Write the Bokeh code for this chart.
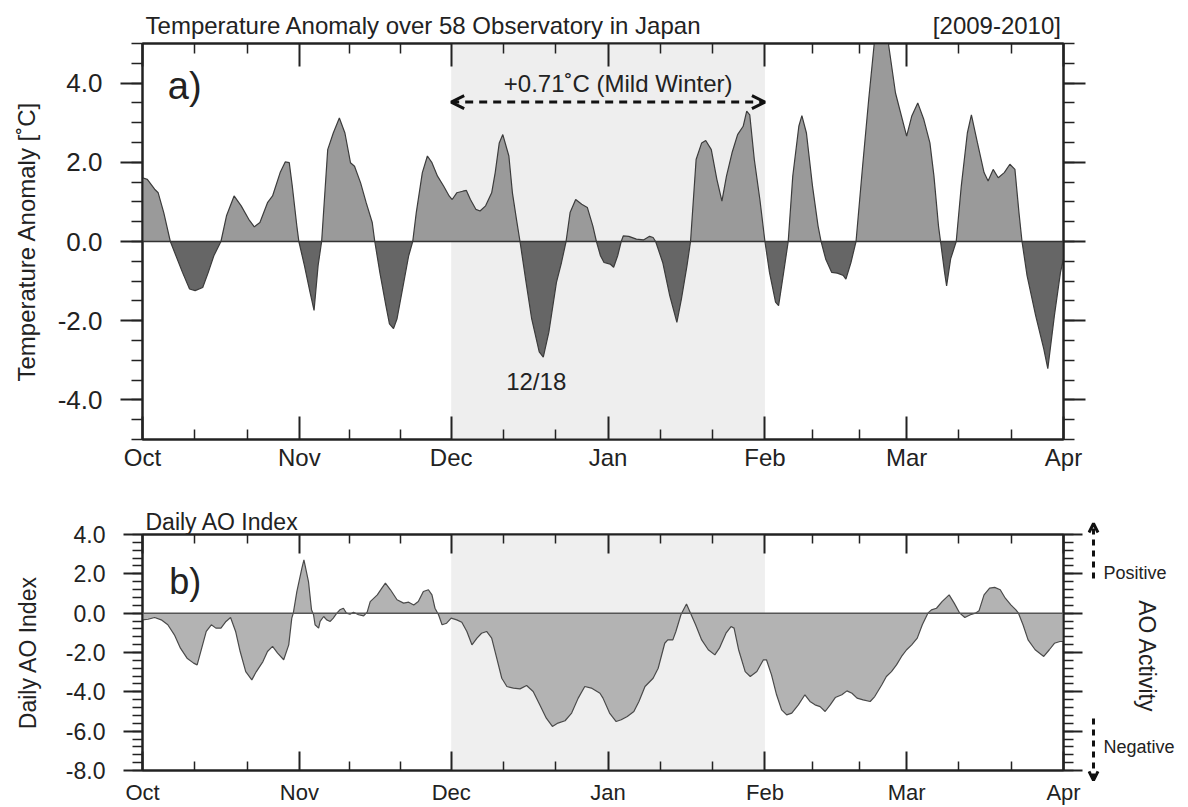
import numpy as np
from bokeh.plotting import figure
from bokeh.models import (FixedTicker, LinearAxis, Range1d, BoxAnnotation, Label,
                          Arrow, OpenHead, Span, NumeralTickFormatter, Title)
from bokeh.layouts import column, row
from bokeh.embed import file_html
from bokeh.resources import INLINE

# ---------------- data ----------------
month_labels = ["Oct", "Nov", "Dec", "Jan", "Feb", "Mar", "Apr"]
month_days = [0, 31, 61, 92, 123, 151, 182]   # days since 1 Oct 2009

# a) temperature anomaly over 58 observatories (deg C)
temp_day = [0, 0.95, 2.4, 3.1, 4.2, 5.5, 7.9, 9.3, 10.4, 11.9, 13.0, 14.1, 15.5, 16.6, 18.1,
            19.5, 21.0, 22.1, 23.2, 24.7, 25.7, 27.2, 28.2, 29.0, 29.6, 30.5, 30.9, 32.0, 33.1,
            33.9, 34.7, 35.4, 36.6, 37.7, 38.9, 40.0, 41.1, 41.9, 43.1, 44.2, 45.4, 45.9, 46.9,
            48.1, 48.8, 49.6, 50.3, 51.5, 52.6, 53.4, 54.1, 55.3, 56.3, 57.2, 58.3, 59.5, 60.6,
            61.2, 62.1, 63.3, 64.0, 64.8, 65.9, 66.7, 67.8, 69.0, 69.7, 70.5, 71.2, 72.4, 73.1,
            73.9, 74.6, 75.8, 76.9, 78.4, 79.2, 80.3, 81.8, 82.8, 83.7, 84.5, 85.6, 86.8, 87.9,
            89.0, 89.7, 90.5, 91.2, 92.4, 93.1, 93.9, 94.6, 95.0, 96.1, 97.6, 99.0, 100.2, 100.9,
            101.4, 102.8, 104.2, 105.6, 106.5, 107.6, 108.3, 109.4, 110.5, 111.3, 112.4, 113.5,
            114.5, 115.4, 116.5, 117.6, 118.7, 119.4, 120.0, 120.9, 122.0, 123.0, 123.9, 125.1,
            125.7, 126.6, 127.6, 128.5, 129.7, 130.3, 131.2, 132.4, 133.5, 134.1, 135.0, 136.2,
            137.3, 138.5, 139.0, 140.0, 141.0, 142.3, 143.5, 144.6, 145.8, 147.4, 148.8, 151.0,
            152.0, 153.2, 154.4, 155.6, 156.4, 157.3, 157.7, 158.5, 158.9, 159.7, 160.8, 161.8,
            163.0, 163.8, 165.0, 166.3, 167.1, 168.1, 169.1, 170.3, 171.4, 172.4, 173.2, 173.8,
            174.8, 176.5, 178.1, 178.9, 180.2, 181.4, 182.0]
temp_val = [1.61, 1.57, 1.32, 1.23, 0.73, 0.0, -0.78, -1.20, -1.24, -1.16, -0.78, -0.36, 0.0, 0.65, 1.15,
            0.90, 0.56, 0.37, 0.48, 0.98, 1.15, 1.74, 2.01, 1.99, 1.40, 0.39, 0.0, -0.61, -1.28,
            -1.74, -0.61, 0.0, 2.32, 2.74, 3.12, 2.74, 1.99, 1.90, 1.48, 0.98, 0.48, 0.0, -0.78,
            -1.62, -2.08, -2.20, -1.95, -1.12, -0.36, 0.0, 0.73, 1.74, 2.16, 1.99, 1.65, 1.40, 1.15,
            1.06, 1.23, 1.27, 1.29, 1.06, 0.81, 0.77, 0.90, 1.23, 1.74, 2.49, 2.70, 2.16, 1.23,
            0.56, 0.0, -1.03, -1.95, -2.79, -2.92, -2.29, -1.03, -0.53, 0.0, 0.73, 1.06, 0.94, 0.86,
            0.39, 0.0, -0.36, -0.53, -0.57, -0.65, -0.36, 0.0, 0.14, 0.13, 0.06, 0.04, 0.13, 0.10,
            0.0, -0.53, -1.37, -2.04, -1.45, -0.61, 0.0, 2.07, 2.49, 2.55, 2.32, 1.57,
            1.02, 1.65, 2.24, 2.70, 2.91, 3.29, 3.20, 2.07, 1.06, 0.0, -0.78, -1.53,
            -1.62, -0.86, 0.0, 1.65, 2.91, 3.18, 2.74, 1.40, 0.39, 0.0, -0.44, -0.78,
            -0.80, -0.86, -0.95, -0.53, 0.0, 1.90, 3.58, 5.0, 5.4, 5.0, 3.75, 2.66,
            3.16, 3.50, 3.08, 2.49, 1.65, 0.39, 0.0, -0.78, -1.12, -0.44, 0.0, 1.40,
            2.74, 3.20, 2.49, 1.74, 1.53, 1.82, 1.61, 1.74, 1.95, 1.82, 0.73, 0.0,
            -0.86, -1.87, -2.71, -3.21, -1.87, -0.78, -0.44]

# b) daily AO index
ao_day = [0, 1.1, 2.4, 3.7, 5.0, 6.3, 7.5, 8.8, 10.1, 10.8, 11.7, 12.6, 13.6, 14.5, 15.5, 16.5,
          17.4, 18.4, 19.3, 20.4, 21.6, 22.5, 23.8, 24.7, 25.7, 26.7, 27.9, 28.9, 29.5, 29.8,
          30.5, 31.5, 31.9, 32.8, 33.4, 33.8, 34.1, 34.8, 35.1, 35.8, 36.4, 37.1, 37.7, 38.4,
          39.0, 39.7, 40.3, 41.0, 41.7, 42.7, 43.7, 44.4, 45.0, 46.4, 47.3, 48.0, 49.0, 50.3,
          51.6, 52.6, 53.6, 54.5, 55.5, 56.5, 57.2, 57.8, 58.5, 59.2, 60.1, 61.0, 62.1, 63.1,
          64.1, 65.1, 66.1, 67.0, 68.0, 69.0, 70.0, 71.0, 72.0, 73.3, 74.6, 75.9, 77.2, 78.5,
          79.8, 81.0, 82.1, 83.5, 84.8, 86.1, 87.4, 88.7, 90.4, 91.0, 92.3, 93.6, 94.6, 95.8,
          97.1, 98.1, 99.3, 100.9, 101.9, 103.2, 103.8, 104.8, 105.4, 106.4, 106.9, 107.5,
          108.3, 109.3, 110.5, 111.8, 113.1, 114.0, 115.3, 116.3, 116.9, 117.8, 119.1, 120.1,
          121.4, 122.7, 123.3, 124.3, 125.3, 126.3, 127.3, 128.3, 129.6, 130.9, 131.9, 132.9,
          133.9, 134.9, 135.9, 136.9, 138.2, 139.2, 140.2, 141.2, 142.4, 143.8, 144.7, 146.1,
          147.0, 148.0, 149.0, 150.0, 151.0, 152.0, 153.1, 154.1, 155.2, 155.9, 156.9, 158.0,
          159.4, 160.4, 161.5, 162.5, 163.6, 164.6, 165.3, 166.3, 167.4, 168.4, 169.5, 170.5,
          171.6, 172.6, 173.1, 174.0, 175.0, 176.4, 178.1, 179.2, 180.2, 181.3, 182.0]
ao_val = [-0.34, -0.31, -0.22, -0.34, -0.59, -1.10, -1.78, -2.29, -2.54, -2.63, -1.78, -0.93,
          -0.59, -0.76, -0.76, -0.42, -0.22, -0.93, -1.95, -2.97, -3.39, -2.97, -2.46, -1.95,
          -1.69, -2.03, -2.37, -1.61, -0.25, 0.0, 1.10, 2.29, 2.71, 1.61, 0.17, -0.08, -0.59,
          -0.76, -0.42, -0.17, -0.34, -0.42, -0.25, 0.0, 0.17, 0.25, 0.0, -0.05, 0.05, -0.08,
          -0.14, 0.05, 0.59, 0.93, 1.27, 1.53, 1.19, 0.68, 0.51, 0.56, 0.42, 0.59, 1.10, 1.19,
          0.93, 0.25, -0.08, -0.59, -0.51, -0.25, -0.34, -0.46, -0.93, -1.61, -1.27, -1.02,
          -0.93, -1.27, -2.29, -3.31, -3.73, -3.81, -3.85, -3.68, -3.98, -4.66, -5.34, -5.76,
          -5.59, -5.47, -5.08, -4.32, -3.73, -3.81, -4.07, -4.32, -5.08, -5.51, -5.42, -5.25,
          -5.00, -4.49, -3.73, -3.31, -2.80, -1.53, -1.36, -1.36, -0.93, -0.08, 0.17, 0.47,
          0.0, -0.59, -1.36, -1.86, -2.12, -1.78, -1.02, -0.68, -0.76, -1.86, -2.97, -3.22,
          -2.97, -2.37, -2.37, -3.14, -4.15, -4.92, -5.17, -5.08, -4.66, -4.15, -4.49, -4.66,
          -4.75, -5.00, -4.66, -4.29, -4.15, -3.95, -4.07, -4.32, -4.41, -4.49, -4.24, -3.64,
          -3.22, -2.97, -2.63, -2.20, -1.86, -1.61, -1.27, -0.59, 0.0, 0.17, 0.25, 0.59,
          0.93, 0.51, 0.0, -0.22, -0.08, 0.0, 0.12, 0.93, 1.27, 1.31, 1.19, 0.76,
          0.42, 0.17, 0.0, -0.59, -1.36, -1.86, -2.20, -1.86, -1.53, -1.44, -1.44]

# ---------------- layout constants (pixels) ----------------
INK = "#222222"
FONT = "Liberation Sans"
LEFT = 142          # frame left edge
FW = 921            # frame width
H1_HEAD = 40        # header strip above panel a
A_TOP, A_H, A_BOT = 3, 396, 36
B_TOP, B_H, B_BOT = 59, 236, 36
B_RIGHT = 24
SIDE_W = 1188 - (LEFT + FW + B_RIGHT)

minor_days = []
for a, b in zip(month_days[:-1], month_days[1:]):
    minor_days += [a + (b - a) / 3.0, a + 2 * (b - a) / 3.0]
x_overrides = {d: m for d, m in zip(month_days, month_labels)}


def plain_fig(w, h, xr, yr, left=0, right=0):
    p = figure(frame_width=w, frame_height=h, x_range=xr, y_range=yr,
               x_axis_type=None, y_axis_type=None, output_backend="svg",
               toolbar_location=None, min_border_left=left, min_border_right=right,
               min_border_top=0, min_border_bottom=0)
    p.grid.visible = False
    p.outline_line_color = None
    p.background_fill_color = "white"
    p.border_fill_color = "white"
    return p


def base_fig(frame_h, ylo, yhi, top, bottom, right):
    p = figure(frame_width=FW, frame_height=frame_h,
               x_range=Range1d(0, 182), y_range=Range1d(ylo, yhi),
               x_axis_type=None, y_axis_type=None,
               output_backend="svg", toolbar_location=None,
               min_border_left=LEFT, min_border_right=right,
               min_border_top=top, min_border_bottom=bottom)
    p.grid.visible = False
    p.outline_line_color = INK
    p.outline_line_width = 2
    p.background_fill_color = "white"
    p.border_fill_color = "white"
    return p


def style_axis(ax):
    ax.axis_line_color = INK
    ax.axis_line_width = 2
    ax.major_tick_line_color = INK
    ax.major_tick_line_width = 2
    ax.minor_tick_line_color = INK
    ax.minor_tick_line_width = 1.5
    ax.major_label_text_font = FONT
    ax.major_label_text_color = INK


def hide_labels(ax):
    ax.major_label_text_font_size = "1px"
    ax.major_label_text_color = None
    ax.major_label_standoff = 0


def add_x_axes(p, label_size, standoff, tick_major, tick_minor):
    xt = FixedTicker(ticks=month_days, minor_ticks=minor_days)
    for loc in ("below", "above"):
        ax = LinearAxis(ticker=xt, major_label_overrides=x_overrides)
        style_axis(ax)
        ax.major_tick_in = tick_major
        ax.major_tick_out = 0
        ax.minor_tick_in = tick_minor
        ax.minor_tick_out = 0
        if loc == "below":
            ax.major_label_text_font_size = label_size
            ax.major_label_standoff = standoff
        else:
            hide_labels(ax)
        p.add_layout(ax, loc)


def add_y_axes(p, ticks, minors, label_size, standoff, tick_major, tick_minor,
               axis_label, axis_label_size, axis_label_standoff):
    yt = FixedTicker(ticks=ticks, minor_ticks=minors)
    for loc in ("left", "right"):
        ax = LinearAxis(ticker=yt, formatter=NumeralTickFormatter(format="0.0"))
        style_axis(ax)
        ax.major_tick_in = 0
        ax.major_tick_out = tick_major
        ax.minor_tick_in = 0
        ax.minor_tick_out = tick_minor
        if loc == "left":
            ax.major_label_text_font_size = label_size
            ax.major_label_standoff = standoff
            ax.axis_label = axis_label
            ax.axis_label_text_font = FONT
            ax.axis_label_text_font_size = axis_label_size
            ax.axis_label_text_font_style = "normal"
            ax.axis_label_text_color = INK
            ax.axis_label_standoff = axis_label_standoff
        else:
            hide_labels(ax)
        p.add_layout(ax, loc)


def text(p, x, y, s, size, align="left", baseline="alphabetic", angle=0.0):
    p.add_layout(Label(x=x, y=y, text=s, text_font=FONT, text_font_size=size,
                       text_color=INK, text_align=align, text_baseline=baseline,
                       angle=angle))


# ---------------- header a ----------------
h1 = plain_fig(FW, H1_HEAD, Range1d(0, 182), Range1d(0, H1_HEAD), left=LEFT,
               right=1188 - LEFT - FW)
text(h1, 0.6, 15, "Temperature Anomaly over 58 Observatory in Japan", "24px")
text(h1, 181.5, 15, "[2009-2010]", "24px", align="right")

# ---------------- panel a ----------------
p1 = base_fig(A_H, -5, 5, A_TOP, A_BOT, 1188 - LEFT - FW)
p1.add_layout(BoxAnnotation(left=month_days[2], right=month_days[4], fill_color="#eeeeee",
                            fill_alpha=1.0, line_color=None, level="underlay"))
tx = np.array(temp_day, dtype=float)
tv = np.array(temp_val, dtype=float)
p1.varea(x=tx, y1=np.zeros_like(tv), y2=np.clip(tv, 0, None), fill_color="#9a9a9a")
p1.varea(x=tx, y1=np.clip(tv, None, 0), y2=np.zeros_like(tv), fill_color="#666666")
p1.line(tx, tv, line_color="#3c3c3c", line_width=1.2)
p1.add_layout(Span(location=0, dimension="width", line_color="#333333", line_width=1.5))

add_x_axes(p1, "24px", 4, 23, 10)
add_y_axes(p1, [-4, -2, 0, 2, 4], [v * 0.5 for v in range(-10, 11)], "26px", 18, 22, 11,
           "Temperature Anomaly [˚C]", "24px", 15)

text(p1, 5.0, 3.92, "a)", "38px")
text(p1, 94.0, 4.0, "+0.71˚C (Mild Winter)", "24px", align="center")
text(p1, 77.8, -3.54, "12/18", "24px", align="center")
p1.add_layout(Arrow(start=OpenHead(size=13, line_width=3, line_color="#111111"),
                    end=OpenHead(size=13, line_width=3, line_color="#111111"),
                    x_start=month_days[2], x_end=month_days[4], y_start=3.52, y_end=3.52,
                    line_color="#111111", line_width=3, line_dash="8 6"))

# ---------------- panel b ----------------
p2 = base_fig(B_H, -8, 4, B_TOP, B_BOT, B_RIGHT)
p2.title = Title(text="Daily AO Index", align="left", offset=3, standoff=0,
                 text_font=FONT, text_font_size="23px", text_font_style="normal",
                 text_color=INK)
p2.add_layout(BoxAnnotation(left=month_days[2], right=month_days[4], fill_color="#efefef",
                            fill_alpha=1.0, line_color=None, level="underlay"))
ax_ = np.array(ao_day, dtype=float)
av = np.array(ao_val, dtype=float)
p2.varea(x=ax_, y1=np.zeros_like(av), y2=av, fill_color="#b3b3b3")
p2.line(ax_, av, line_color="#4a4a4a", line_width=1.2)
p2.add_layout(Span(location=0, dimension="width", line_color="#555555", line_width=1.5))

add_x_axes(p2, "22px", 9, 19, 9)
add_y_axes(p2, [-8, -6, -4, -2, 0, 2, 4], [v * 0.4 for v in range(-20, 11)], "23px", 18, 19, 10,
           "Daily AO Index", "23px", 22)

text(p2, 5.3, 1.6, "b)", "36px")

# ---------------- side strip for panel b (AO activity arrows) ----------------
scale_b = B_H / 12.0                       # pixels per AO unit
side_top = 4 + B_TOP / scale_b
side_bot = -8 - B_BOT / scale_b
side_h = B_TOP + B_H + B_BOT
side = plain_fig(SIDE_W, side_h, Range1d(0, SIDE_W), Range1d(side_bot, side_top))
arrow_x = 6
side.add_layout(Arrow(end=OpenHead(size=9, line_width=3, line_color="#111111"), start=None,
                      x_start=arrow_x, x_end=arrow_x, y_start=1.76, y_end=4.56,
                      line_color="#111111", line_width=3, line_dash="6 5"))
side.add_layout(Arrow(end=OpenHead(size=9, line_width=3, line_color="#111111"), start=None,
                      x_start=arrow_x, x_end=arrow_x, y_start=-5.35, y_end=-8.5,
                      line_color="#111111", line_width=3, line_dash="6 5"))
text(side, 16, 2.05, "Positive", "18px", baseline="middle")
text(side, 16, -6.78, "Negative", "18px", baseline="middle")
text(side, 59, -2.2, "AO Activity", "23px", align="center", baseline="middle", angle=-np.pi / 2)

layout = column(h1, p1, row(column(p2, spacing=0), column(side, spacing=0), spacing=0),
                spacing=0)
open("out.html", "w").write(file_html(layout, INLINE))
